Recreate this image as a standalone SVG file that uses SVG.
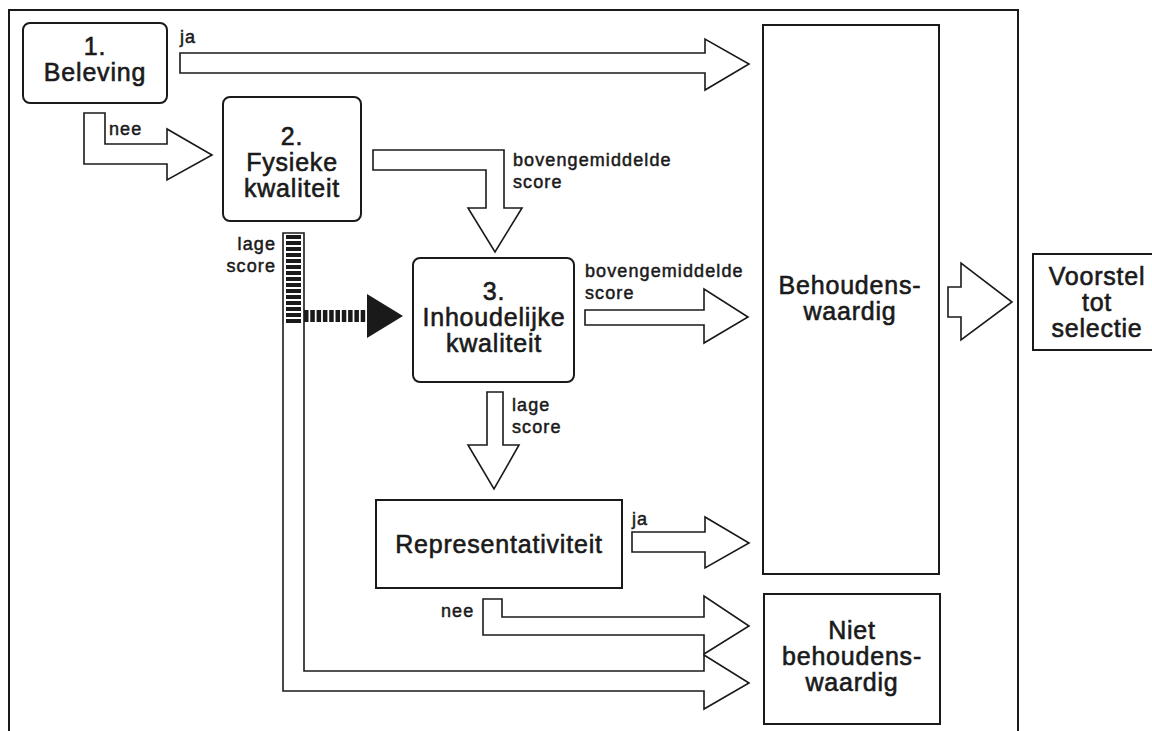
<svg xmlns="http://www.w3.org/2000/svg" width="1152" height="731" viewBox="0 0 1152 731">
<style>
.box{fill:#fff;stroke:#1a1a1a;stroke-width:2}
.arr{fill:#fff;stroke:#1a1a1a;stroke-width:1.6;stroke-linejoin:miter}
.big{font-family:"Liberation Sans",Arial,sans-serif;font-size:25px;letter-spacing:0.8px;fill:#1a1a1a;stroke:#1a1a1a;stroke-width:0.6;text-anchor:middle}
.sm{font-family:"Liberation Sans",Arial,sans-serif;font-size:18px;letter-spacing:1.1px;fill:#1a1a1a;stroke:#1a1a1a;stroke-width:0.5}
</style>
<rect width="1152" height="731" fill="#fff"/>
<rect id="frame" x="9" y="10" width="1009" height="735" fill="none" stroke="#1a1a1a" stroke-width="2"/>
<g id="connectors">
<path class="arr" d="M180,53 H705 V39 L749,64 L705,90 V73 H180 Z"/>
<path class="arr" d="M84,113 H105 V144 H167 V129 L212,155 L167,180 V164 H84 Z"/>
<path class="arr" d="M373,150 H504 V208 H522 L495,252 L468,208 H486 V170 H373 Z"/>
<path class="arr" d="M585,310 H704 V289 L748,317 L704,343 V325 H585 Z"/>
<path class="arr" d="M487,392 H503 V445 H519 L494,489 L468,445 H487 Z"/>
<path class="arr" d="M632,532 H705 V517 L749,543 L705,568 V552 H632 Z"/>
<path class="arr" d="M483,599 H502 V617 H704 V596 L749,626 L704,654 V635 H483 Z"/>
<path class="arr" d="M283,233 H304 V671 H704 V655 L749,683 L704,709 V691 H283 Z"/>
<line x1="293.5" y1="235" x2="293.5" y2="323" stroke="#1a1a1a" stroke-width="15" stroke-dasharray="4 2"/>
<line x1="304" y1="316" x2="368" y2="316" stroke="#1a1a1a" stroke-width="12" stroke-dasharray="4.5 1.8"/>
<polygon points="367,294 403,316 367,338" fill="#1a1a1a"/>
<path class="arr" d="M948,287 H961 V263 L1012,302 L961,340 V317 H948 Z"/>
<text class="sm" x="180" y="43">ja</text>
<text class="sm" x="109" y="135">nee</text>
<text class="sm" x="513" y="166">bovengemiddelde</text>
<text class="sm" x="513" y="188">score</text>
<text class="sm" x="276" y="250" text-anchor="end">lage</text>
<text class="sm" x="276" y="272" text-anchor="end">score</text>
<text class="sm" x="585" y="277">bovengemiddelde</text>
<text class="sm" x="585" y="299">score</text>
<text class="sm" x="512" y="411">lage</text>
<text class="sm" x="512" y="433">score</text>
<text class="sm" x="632" y="525">ja</text>
<text class="sm" x="441" y="617">nee</text>
</g>
<g id="n1">
<rect class="box" x="23" y="23" width="144" height="80" rx="7"/>
<text class="big" x="95" y="55">1.</text>
<text class="big" x="95" y="81">Beleving</text>
</g>
<g id="n2">
<rect class="box" x="223" y="97" width="138" height="124" rx="7"/>
<text class="big" x="292" y="145">2.</text>
<text class="big" x="292" y="171">Fysieke</text>
<text class="big" x="292" y="197">kwaliteit</text>
</g>
<g id="n3">
<rect class="box" x="413" y="258" width="161" height="124" rx="7"/>
<text class="big" x="494" y="300">3.</text>
<text class="big" x="494" y="326">Inhoudelijke</text>
<text class="big" x="494" y="352">kwaliteit</text>
</g>
<g id="n4">
<rect class="box" x="376" y="500" width="246" height="88"/>
<text class="big" x="499" y="553">Representativiteit</text>
</g>
<g id="n5">
<rect class="box" x="763" y="25" width="176" height="549"/>
<text class="big" x="850" y="294">Behoudens-</text>
<text class="big" x="850" y="320">waardig</text>
</g>
<g id="n6">
<rect class="box" x="764" y="594" width="176" height="130"/>
<text class="big" x="852" y="639">Niet</text>
<text class="big" x="852" y="665">behoudens-</text>
<text class="big" x="852" y="691">waardig</text>
</g>
<g id="n7">
<rect class="box" x="1033" y="254" width="130" height="96"/>
<text class="big" x="1097" y="285">Voorstel</text>
<text class="big" x="1097" y="311">tot</text>
<text class="big" x="1097" y="337">selectie</text>
</g>
</svg>
